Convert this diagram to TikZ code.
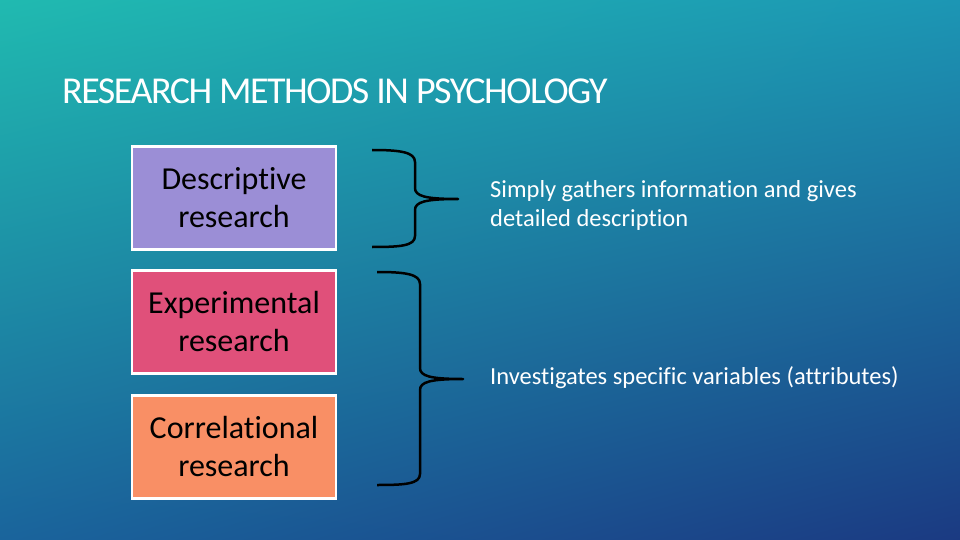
\documentclass[tikz,border=0pt]{standalone}
\usepackage{fontspec}
\setmainfont{Carlito}[Ligatures=NoCommon]
\usetikzlibrary{shadings}
\definecolor{bgul}{RGB}{32,186,176}
\definecolor{bgur}{RGB}{28,150,180}
\definecolor{bgll}{RGB}{26,100,156}
\definecolor{bglr}{RGB}{27,58,130}
\definecolor{cdesc}{RGB}{155,142,214}
\definecolor{cexp}{RGB}{224,80,122}
\definecolor{ccor}{RGB}{249,143,101}
\begin{document}
\begin{tikzpicture}[x=1pt,y=-1pt,
  box/.style={draw=white,line width=2.5pt,minimum width=204pt,minimum height=103pt,inner sep=2pt,align=center,font=\fontsize{32}{38}\selectfont,text=black},
  brace/.style={draw=black,line width=2.5pt,line join=round},
  desc/.style={anchor=west,text=white,align=left,font=\fontsize{24.5}{29}\selectfont}]
\shade[upper left=bgul,upper right=bgur,lower left=bgll,lower right=bglr] (0,0) rectangle (960,540);
\useasboundingbox (0,0) rectangle (960,540);
\node[anchor=west,text=white,inner sep=0pt,font=\fontsize{38}{40}\selectfont] (title) at (62,91) {\addfontfeature{LetterSpace=-4}RESEARCH METHODS IN PSYCHOLOGY};
\node[box,fill=cdesc] (d) at (234,198) {Descriptive\\research};
\node[box,fill=cexp] (e) at (234,322) {Experimental\\research};
\node[box,fill=ccor] (c) at (234,447) {Correlational\\research};
\coordinate (b1) at (458,199);
\coordinate (b2) at (463,379);
\draw[brace] (372,150) .. controls (400,150) and (415,152) .. (415,162) -- (415,188) .. controls (415,196) and (425,199) .. (b1) .. controls (425,199) and (415,202) .. (415,210) -- (415,236) .. controls (415,246) and (400,247) .. (372,247);
\draw[brace] (377,272) .. controls (405,272) and (420,274) .. (420,284) -- (420,368) .. controls (420,376) and (430,379) .. (b2) .. controls (430,379) and (420,382) .. (420,390) -- (420,474) .. controls (420,484) and (405,485) .. (377,485);
\node[desc,inner sep=0pt] (t1) at (490,205) {Simply gathers information and gives\\detailed description};
\node[desc,inner sep=0pt] (t2) at (490,378) {Investigates specific variables (attributes)};
\end{tikzpicture}
\end{document}
